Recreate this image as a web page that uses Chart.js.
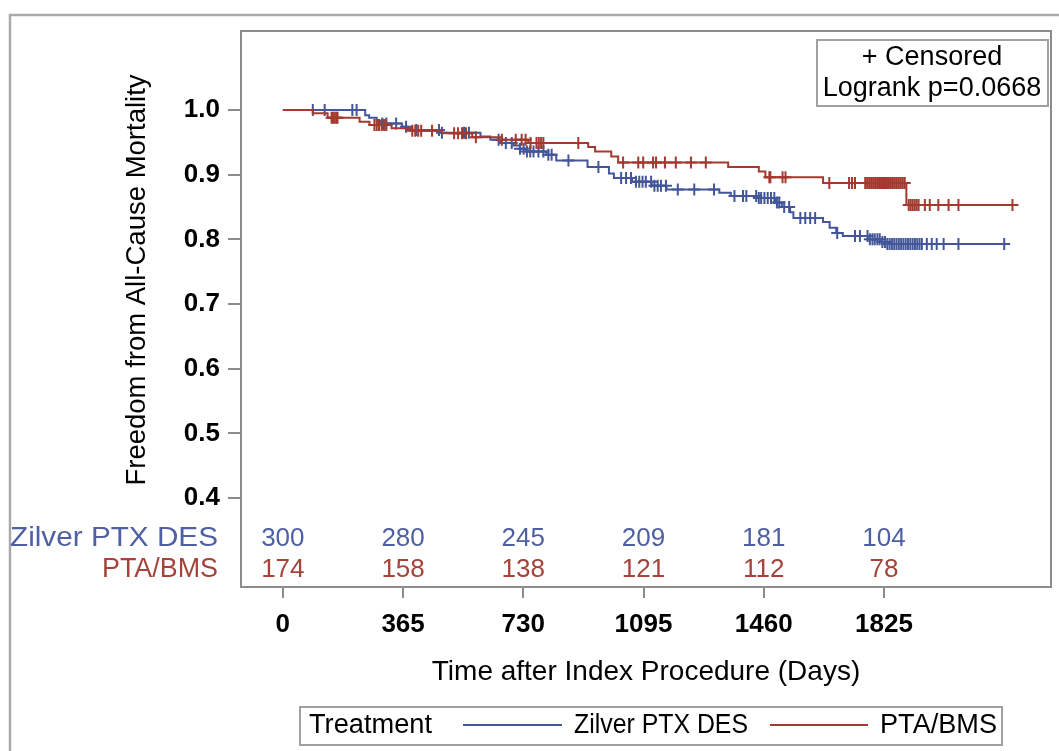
<!DOCTYPE html>
<html><head><meta charset="utf-8">
<script src="https://cdn.jsdelivr.net/npm/chart.js@4/dist/chart.umd.min.js"></script>
<style>html,body{margin:0;padding:0;background:#fff;overflow:hidden}canvas{display:block}</style>
</head><body>
<canvas id="c" width="1059" height="751"></canvas>
<script>
// ---------- data ----------
const seriesNames = ['Zilver PTX DES', 'PTA/BMS'];
const timesZilver = [0,250,262,285,300,362,380,480,600,630,660,700,720,740,800,830,925,990,1005,1060,1120,1165,1325,1360,1440,1495,1515,1540,1550,1640,1660,1680,1700,1780,1815,1830,2190];
const survZilver  = [1.000,0.992,0.988,0.983,0.979,0.974,0.969,0.965,0.959,0.954,0.949,0.945,0.940,0.936,0.931,0.922,0.912,0.902,0.895,0.889,0.883,0.877,0.872,0.867,0.864,0.857,0.850,0.842,0.833,0.827,0.818,0.810,0.805,0.800,0.796,0.793,0.793];
const censorZilver = [91,127,211,224,302,314,344,374,405,474,483,550,565,655,677,695,720,731,741,751,761,776,791,806,816,867,958,1027,1042,1057,1072,1082,1092,1102,1118,1128,1138,1148,1163,1199,1249,1309,1371,1397,1407,1437,1445,1452,1462,1472,1482,1492,1500,1507,1522,1537,1571,1586,1601,1616,1683,1737,1752,1775,1782,1790,1797,1805,1812,1820,1828,1835,1842,1849,1856,1863,1870,1877,1884,1891,1898,1905,1912,1919,1926,1933,1940,1955,1970,1985,2006,2051,2190];

const timesPTA = [0,91,136,233,263,330,393,483,575,665,745,927,948,997,1018,1352,1445,1465,1640,1893,2215];
const survPTA  = [1.000,0.995,0.988,0.982,0.977,0.972,0.968,0.964,0.958,0.954,0.949,0.943,0.936,0.928,0.919,0.912,0.905,0.896,0.887,0.853,0.853];
const censorPTA = [148,152,157,162,166,278,285,292,300,307,314,393,402,411,420,453,520,532,544,556,586,665,707,725,737,752,770,777,784,791,897,1033,1079,1094,1124,1133,1160,1193,1239,1284,1477,1480,1517,1526,1659,1719,1728,1737,1768,1774,1780,1786,1792,1798,1804,1810,1816,1822,1828,1834,1840,1846,1852,1858,1864,1870,1876,1882,1888,1900,1906,1912,1918,1924,1930,1949,1964,1990,2021,2051,2215];

const xTickValues = [0,365,730,1095,1460,1825];
const yTickValues = [0.4,0.5,0.6,0.7,0.8,0.9,1.0];
const riskZilver = [300,280,245,209,181,104];
const riskPTA    = [174,158,138,121,112,78];
const pValueText = 'Logrank p=0.0668';

// ---------- styling ----------
const BLUE = '#44569a', RED = '#a3392f';
const BLUE_T = '#4e5fa3', RED_T = '#a5423a';
const FONT = '"Liberation Sans", Arial, sans-serif';

function survAt(times, surv, t){
  let s = surv[0];
  for (let i=0;i<times.length;i++){ if (times[i] <= t) s = surv[i]; else break; }
  return s;
}
const stepPts = (times, surv) => times.map((t,i)=>({x:t, y:surv[i]}));
const censPts = (cens, times, surv) => cens.map(t=>({x:t, y:survAt(times, surv, t)}));

// draw text squeezed/stretched horizontally to a target width
function fitText(c, txt, x, y, w, align){
  const m = c.measureText(txt).width;
  const k = w / m;
  c.save();
  c.textAlign = 'left';
  let x0 = x;
  if (align === 'right') x0 = x - w;
  else if (align === 'center') x0 = x - w/2;
  c.translate(x0, y); c.scale(k, 1);
  c.fillText(txt, 0, 0);
  c.restore();
}

const decor = {
  id:'decor',
  beforeDraw(chart){
    const c = chart.ctx;
    c.save();
    c.fillStyle='#fff'; c.fillRect(0,0,chart.width,chart.height);
    c.strokeStyle='#aaaaaa'; c.lineWidth=2.5;
    c.beginPath(); c.moveTo(10,760); c.lineTo(10,15); c.lineTo(1070,15); c.stroke();
    c.restore();
  },
  afterDraw(chart){
    const c = chart.ctx, a = chart.chartArea, xs = chart.scales.x;
    c.save();
    // plot frame
    c.strokeStyle='#8c8c8c'; c.lineWidth=2;
    c.strokeRect(a.left, a.top, a.right-a.left, a.bottom-a.top);
    // at-risk table
    c.textBaseline='middle';
    const yRow1 = a.bottom-48, yRow2 = a.bottom-17;
    c.font = '27px '+FONT;
    c.fillStyle=BLUE_T; fitText(c, seriesNames[0], 218, yRow1, 208, 'right');
    c.fillStyle=RED_T;  fitText(c, seriesNames[1], 218, yRow2, 116, 'right');
    c.font = '26px '+FONT;
    c.textAlign='center';
    xTickValues.forEach((t,i)=>{
      const px = xs.getPixelForValue(t);
      c.fillStyle=BLUE_T; c.fillText(String(riskZilver[i]), px, yRow1);
      c.fillStyle=RED_T;  c.fillText(String(riskPTA[i]), px, yRow2);
    });
    // axis titles
    c.fillStyle='#000'; c.font='28px '+FONT;
    c.textAlign='center'; c.textBaseline='middle';
    c.fillText('Time after Index Procedure (Days)', 646, 672);
    c.save(); c.translate(137, 280); c.rotate(-Math.PI/2);
    c.font='27.5px '+FONT;
    c.fillText('Freedom from All-Cause Mortality', 0, 0); c.restore();
    // censored / p-value box
    c.strokeStyle='#a0a0a0'; c.lineWidth=2;
    c.strokeRect(817, 40, 231, 66);
    c.font='27px '+FONT; c.fillStyle='#000';
    c.fillText('+ Censored', 932, 58);
    c.fillText(pValueText, 932, 89);
    // bottom legend
    c.strokeStyle='#a0a0a0'; c.lineWidth=2;
    c.strokeRect(300, 707, 702, 38);
    c.fillStyle='#000';
    fitText(c, 'Treatment', 309, 726, 123, 'left');
    c.lineWidth=2;
    c.strokeStyle=BLUE; c.beginPath(); c.moveTo(463,725); c.lineTo(562,725); c.stroke();
    fitText(c, seriesNames[0], 574, 726, 174, 'left');
    c.strokeStyle=RED; c.beginPath(); c.moveTo(770,725); c.lineTo(868,725); c.stroke();
    fitText(c, seriesNames[1], 880, 726, 117, 'left');
    c.restore();
  }
};

new Chart(document.getElementById('c'), {
  type:'line',
  data:{datasets:[
    {label:seriesNames[1], data:stepPts(timesPTA, survPTA), stepped:'before', borderColor:RED, borderWidth:2, pointRadius:0, order:0},
    {label:seriesNames[1]+' censored', data:censPts(censorPTA, timesPTA, survPTA), showLine:false, pointStyle:'cross', pointRadius:6, pointBorderWidth:2, pointBorderColor:RED, borderColor:RED, order:0},
    {label:seriesNames[0], data:stepPts(timesZilver, survZilver), stepped:'before', borderColor:BLUE, borderWidth:2, pointRadius:0, order:1},
    {label:seriesNames[0]+' censored', data:censPts(censorZilver, timesZilver, survZilver), showLine:false, pointStyle:'cross', pointRadius:6, pointBorderWidth:2, pointBorderColor:BLUE, borderColor:BLUE, order:1}
  ]},
  options:{
    responsive:false, animation:false, devicePixelRatio:1,
    layout:{padding:{top:31,right:4,left:0,bottom:0}},
    plugins:{legend:{display:false}, tooltip:{enabled:false}},
    elements:{line:{tension:0}},
    scales:{
      x:{type:'linear', min:-127, max:2332,
        afterBuildTicks:s=>{s.ticks = xTickValues.map(v=>({value:v}));},
        afterFit:s=>{s.height=164;},
        grid:{drawOnChartArea:false, drawTicks:true, tickLength:11, color:'#8c8c8c', lineWidth:2},
        border:{display:false},
        ticks:{font:{family:FONT, size:26, weight:'bold'}, color:'#000', padding:11, maxRotation:0, autoSkip:false, callback:v=>String(v)}
      },
      y:{type:'linear', min:0.2624, max:1.1222,
        afterBuildTicks:s=>{s.ticks = yTickValues.map(v=>({value:v}));},
        afterFit:s=>{s.width=241;},
        grid:{drawOnChartArea:false, drawTicks:true, tickLength:13, color:'#8c8c8c', lineWidth:2},
        border:{display:false},
        ticks:{font:{family:FONT, size:26, weight:'bold'}, color:'#000', padding:8, callback:v=>v.toFixed(1)}
      }
    }
  },
  plugins:[decor]
});
</script>
</body></html>
